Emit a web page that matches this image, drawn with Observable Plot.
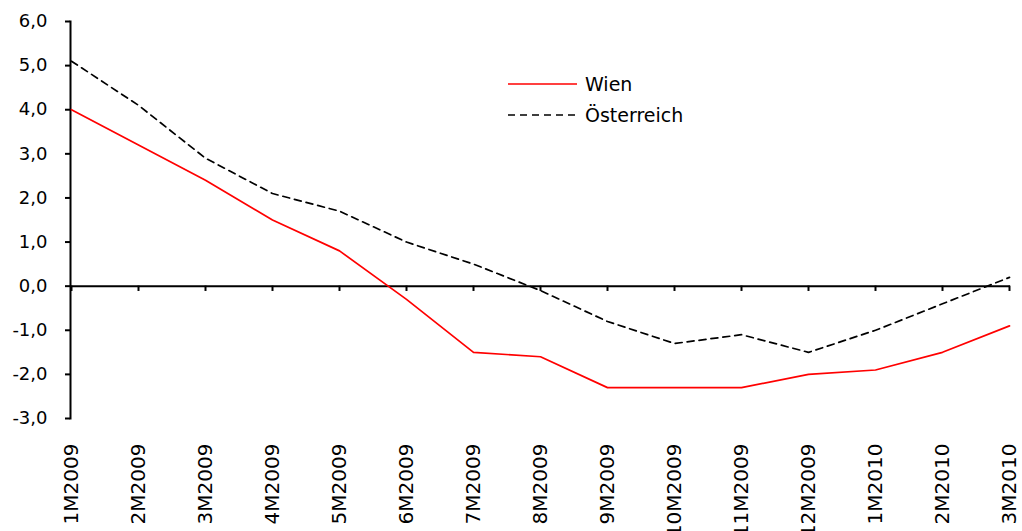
<!DOCTYPE html>
<html>
<head>
<meta charset="utf-8">
<script src="https://cdn.jsdelivr.net/npm/d3@7"></script>
<script src="https://cdn.jsdelivr.net/npm/@observablehq/plot@0.6"></script>
<style>
  html, body { margin: 0; padding: 0; background: #fff; }
  #wrap { position: relative; width: 1022px; height: 531px; overflow: hidden; font-family: "DejaVu Sans", sans-serif; }
  #legend { position: absolute; left: 0; top: 0; pointer-events: none; }
</style>
</head>
<body>
<div id="wrap"></div>
<script>
const months = ["1M2009","2M2009","3M2009","4M2009","5M2009","6M2009","7M2009","8M2009","9M2009","10M2009","11M2009","12M2009","1M2010","2M2010","3M2010"];
const wien = [4.0, 3.2, 2.4, 1.5, 0.8, -0.3, -1.5, -1.6, -2.3, -2.3, -2.3, -2.0, -1.9, -1.5, -0.9];
const oesterreich = [5.1, 4.1, 2.9, 2.1, 1.7, 1.0, 0.5, -0.1, -0.8, -1.3, -1.1, -1.5, -1.0, -0.4, 0.2];
const yTicks = [-3, -2, -1, 0, 1, 2, 3, 4, 5, 6];
const seriesNames = ["Wien", "Österreich"];

const wienData = months.map((m, i) => ({month: m, value: wien[i]}));
const oeData = months.map((m, i) => ({month: m, value: oesterreich[i]}));

const chart = Plot.plot({
  width: 1022,
  height: 531,
  marginLeft: 70,
  marginRight: 12,
  marginTop: 21,
  marginBottom: 113,
  style: {fontFamily: "DejaVu Sans, sans-serif", fontSize: "18px", color: "#000", background: "#fff", overflow: "visible"},
  x: {type: "point", domain: months, padding: 0},
  y: {domain: [-3, 6]},
  marks: [
    Plot.axisY({ticks: yTicks, tickSize: 5, tickPadding: 18, strokeWidth: 2, tickFormat: d => d.toFixed(1).replace(".", ","), label: null, fontSize: 18}),
    Plot.axisX({anchor: "bottom", tickSize: 0, tickRotate: -90, tickPadding: 25, label: null, fontSize: 20}),
    Plot.frame({anchor: "left", strokeWidth: 2}),
    Plot.ruleY([0], {strokeWidth: 2}),
    Plot.ruleX(months, {x: d => d, y1: 0, y2: -0.12, strokeWidth: 2}),
    Plot.line(oeData, {x: "month", y: "value", stroke: "#000", strokeWidth: 1.7, strokeDasharray: "7,5"}),
    Plot.line(wienData, {x: "month", y: "value", stroke: "#ff0000", strokeWidth: 1.7})
  ]
});

const wrap = document.getElementById("wrap");
wrap.appendChild(chart);

// Legend
const ns = "http://www.w3.org/2000/svg";
const leg = document.createElementNS(ns, "svg");
leg.setAttribute("id", "legend");
leg.setAttribute("width", 1022);
leg.setAttribute("height", 531);
const styles = [{stroke: "#ff0000", dash: null}, {stroke: "#000", dash: "7,5"}];
seriesNames.forEach((name, i) => {
  const y = 84 + i * 31;
  const l = document.createElementNS(ns, "line");
  l.setAttribute("x1", 508); l.setAttribute("x2", 577);
  l.setAttribute("y1", y); l.setAttribute("y2", y);
  l.setAttribute("stroke", styles[i].stroke);
  l.setAttribute("stroke-width", 1.7);
  if (styles[i].dash) l.setAttribute("stroke-dasharray", styles[i].dash);
  leg.appendChild(l);
  const t = document.createElementNS(ns, "text");
  t.setAttribute("x", 585); t.setAttribute("y", y + 7);
  t.setAttribute("font-family", "DejaVu Sans, sans-serif");
  t.setAttribute("font-size", 19);
  t.textContent = name;
  leg.appendChild(t);
});
wrap.appendChild(leg);
</script>
</body>
</html>
